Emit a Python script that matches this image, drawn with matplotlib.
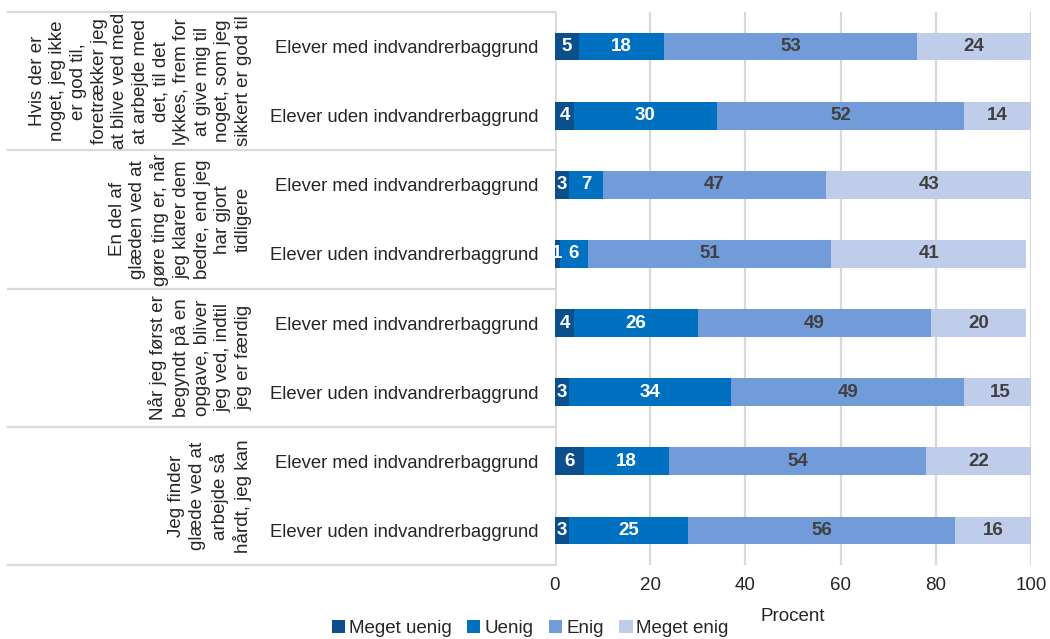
import matplotlib
matplotlib.use("Agg")
import matplotlib.pyplot as plt
from matplotlib.patches import Patch

plt.rcParams['font.family'] = ['Liberation Sans', 'DejaVu Sans']

groups = [
    "Hvis der er\nnoget, jeg ikke\ner god til,\nforetrækker jeg\nat blive ved med\nat arbejde med\ndet, til det\nlykkes, frem for\nat give mig til\nnoget, som jeg\nsikkert er god til",
    "En del af\nglæden ved at\ngøre ting er, når\njeg klarer dem\nbedre, end jeg\nhar gjort\ntidligere",
    "Når jeg først er\nbegyndt på en\nopgave, bliver\njeg ved, indtil\njeg er færdig",
    "Jeg finder\nglæde ved at\narbejde så\nhårdt, jeg kan",
]
categories = ["Elever med indvandrerbaggrund", "Elever uden indvandrerbaggrund"] * 4
series_names = ["Meget uenig", "Uenig", "Enig", "Meget enig"]
meget_uenig = [5, 4, 3, 1, 4, 3, 6, 3]
uenig = [18, 30, 7, 6, 26, 34, 18, 25]
enig = [53, 52, 47, 51, 49, 49, 54, 56]
meget_enig = [24, 14, 43, 41, 20, 15, 22, 16]
xticks = [0, 20, 40, 60, 80, 100]

colors = ["#0B4F8D", "#0070C0", "#729BDA", "#C0CDEA"]
text_colors = ["white", "white", "#404040", "#404040"]
grid_c = "#D9D9D9"

fig = plt.figure(figsize=(10.5, 6.39), dpi=100)
ax = fig.add_axes([555/1050, 1-565/639, 476/1050, (565-12)/639])

ypos = list(range(len(categories)))
left = [0]*len(categories)
for vals, col, tc in zip([meget_uenig, uenig, enig, meget_enig], colors, text_colors):
    bars = ax.barh(ypos, vals, left=left, height=0.4, color=col, zorder=3)
    for y, v, l in zip(ypos, vals, left):
        ax.text(l + v/2, y, str(v), ha='center', va='center', color=tc,
                fontsize=13.5, fontweight='bold', zorder=4)
    left = [a+b for a, b in zip(left, vals)]

ax.set_xlim(0, 100)
ax.set_ylim(len(categories)-0.5, -0.5)
ax.set_xticks(xticks)
ax.set_xticklabels([str(t) for t in xticks], fontsize=13.5, color='#262626')
ax.set_yticks(ypos)
ax.set_yticklabels(categories, fontsize=13.3, color='#262626')
ax.tick_params(axis='y', length=0, pad=12)
ax.tick_params(axis='x', length=0, pad=9)
for s in ax.spines.values():
    s.set_visible(False)
ax.grid(axis='x', color=grid_c, lw=1.6, zorder=0)
ax.axvline(0, color=grid_c, lw=2, zorder=2)
ax.set_xlabel("Procent", fontsize=13.5, color='#262626', labelpad=10)

# table separators
tr = ax.get_yaxis_transform()
x_left = -(555-8)/476
for yb in [-0.5, 1.5, 3.5, 5.5, 7.5]:
    ax.plot([x_left, 0], [yb, yb], transform=tr, color=grid_c, lw=1.6, clip_on=False, zorder=1)

for i, g in enumerate(groups):
    ax.text(-(555-252)/476, 2*i+0.5, g, transform=tr, rotation=90, ha='right', va='center',
            multialignment='center', fontsize=13.5, color='#262626', linespacing=1.28)

handles = [Patch(facecolor=c, edgecolor='none') for c in colors]
fig.legend(handles, series_names, loc='lower center', bbox_to_anchor=(0.505, -0.024), ncol=4,
           frameon=False, fontsize=13.5, handlelength=0.7, handleheight=0.7,
           handletextpad=0.2, columnspacing=0.85, labelcolor='#262626')

fig.savefig("out.png", dpi=100)
